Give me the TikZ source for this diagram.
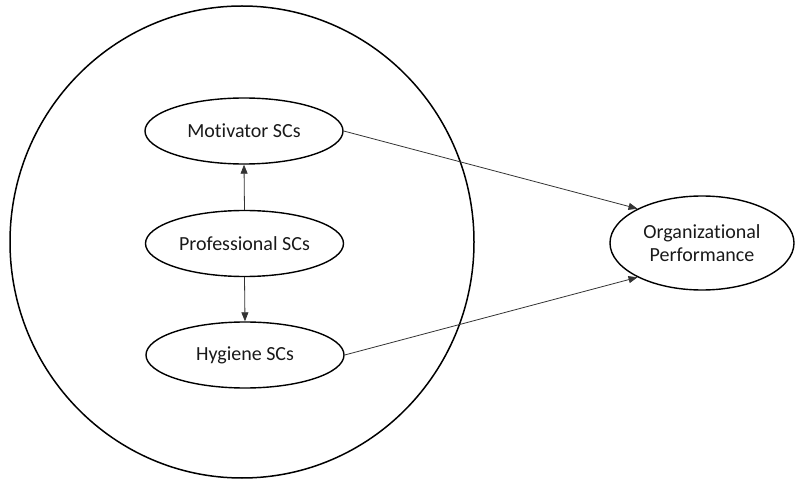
\documentclass[tikz,border=0pt]{standalone}
\usepackage{fontspec}
\setmainfont[Ligatures=NoCommon]{Carlito}
\usetikzlibrary{shapes.geometric,arrows.meta}
\tikzset{
  inner/.style={draw, ellipse, line width=1.4pt, inner sep=0pt, minimum width=198pt, minimum height=66pt, font=\fontsize{20}{23}\selectfont, text=black!90},
  conn/.style={line width=0.8pt, draw=black!80, -{Triangle[length=9pt,width=7pt]}},
}
\begin{document}
\begin{tikzpicture}[x=1pt,y=-1pt]
\useasboundingbox (0,0) rectangle (796,481);
\node[draw, ellipse, line width=1.5pt, inner sep=0pt, minimum width=464pt, minimum height=472pt] (outer) at (242,242) {};
\node[inner] (mot) at (244,131) {Motivator SCs};
\node[inner] (pro) at (244.5,243.5) {Professional SCs};
\node[inner] (hyg) at (245,355) {Hygiene SCs};
\node[inner, minimum width=184pt, minimum height=94pt, align=center] (org) at (702,243) {Organizational\\Performance};
\draw[conn] (pro.north) -- (mot.south);
\draw[conn] (pro.south) -- (hyg.north);
\draw[conn] (mot.east) -- (org.152);
\draw[conn] (hyg.east) -- (org.208);
\end{tikzpicture}
\end{document}
